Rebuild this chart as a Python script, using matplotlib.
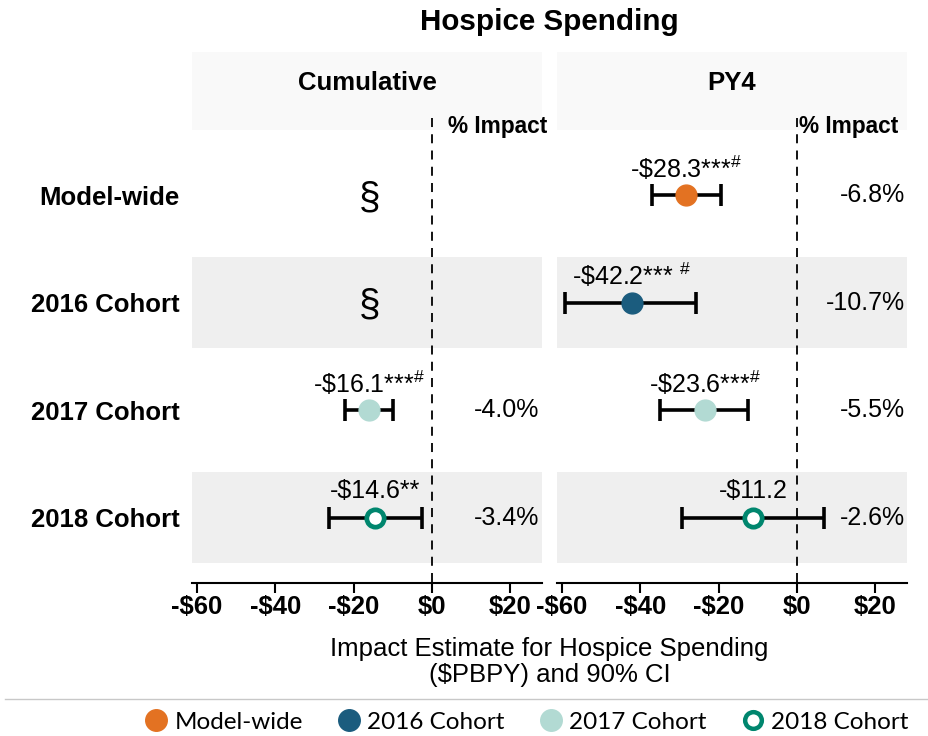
import numpy as np
import matplotlib
matplotlib.use("Agg")
import matplotlib.pyplot as plt
from matplotlib.lines import Line2D

plt.rcParams['font.family'] = ['Liberation Sans', 'DejaVu Sans']
plt.rcParams['mathtext.fontset'] = 'custom'
plt.rcParams['mathtext.rm'] = 'Liberation Sans'
plt.rcParams['mathtext.it'] = 'Liberation Sans'
plt.rcParams['mathtext.bf'] = 'Liberation Sans:bold'

# data
rows = ["Model-wide", "2016 Cohort", "2017 Cohort", "2018 Cohort"]
colors = ["#E37222", "#1B5C7E", "#B2DAD3", "#00866E"]

cum_est = [np.nan, np.nan, -16.1, -14.6]
cum_lo = [np.nan, np.nan, -22.3, -26.3]
cum_hi = [np.nan, np.nan, -9.9, -2.6]
cum_stars = ["", "", "***", "**"]
cum_hash = ["", "", "#", ""]
cum_pct = ["", "", "-4.0%", "-3.4%"]

py4_est = [-28.3, -42.2, -23.6, -11.2]
py4_lo = [-37.0, -59.2, -35.0, -29.5]
py4_hi = [-19.5, -25.9, -12.5, 6.9]
py4_stars = ["***", "*** ", "***", ""]
py4_hash = ["#", "#", "#", ""]
py4_pct = ["-6.8%", "-10.7%", "-5.5%", "-2.6%"]

xticks = [-60, -40, -20, 0, 20]
xticklabels = ["-$60", "-$40", "-$20", "$0", "$20"]

fig = plt.figure(figsize=(9.29, 7.36), dpi=100)

ax1 = fig.add_axes([0.2067, 0.2079, 0.3767, 0.7214])
ax2 = fig.add_axes([0.5996, 0.2079, 0.3767, 0.7214])


def make_label(v, stars, hsh):
    if hsh:
        return "-\\$%.1f%s$^{\\#}$" % (abs(v), stars)
    return "-$%.1f%s" % (abs(v), stars)


def draw_panel(ax, title, est, lo, hi, stars, hashes, pct, pct_x):
    ax.set_xlim(-61.3, 28.1)
    ax.set_ylim(3.609, -1.33)
    ax.set_facecolor("white")

    # header strip and shaded rows
    ax.axhspan(-1.33, -0.605, color="#f9f9f9", zorder=0, lw=0)
    for i in (1, 3):
        ax.axhspan(i - 0.423, i + 0.423, color="#efefef", zorder=0, lw=0)

    ax.plot([0, 0], [-0.716, 3.609], color="black", ls=(0, (5, 4)), lw=1.3, zorder=1)

    for i in range(len(rows)):
        if np.isnan(est[i]):
            ax.text(-16, i + 0.03, "§", fontsize=28, ha="center", va="center")
            continue
        ax.errorbar(est[i], i, xerr=[[est[i] - lo[i]], [hi[i] - est[i]]],
                    fmt="none", ecolor="black", elinewidth=2.6, capsize=8,
                    capthick=2.6, zorder=2)
        if i == 3:
            ax.plot(est[i], i, "o", ms=12.5, mfc="white", mec=colors[i], mew=3.4, zorder=3)
        else:
            ax.plot(est[i], i, "o", ms=15, color=colors[i], zorder=3)
        ax.annotate(make_label(est[i], stars[i], hashes[i]), (est[i], i),
                    xytext=(0, 19), textcoords="offset points",
                    ha="center", va="center", fontsize=18)
        ax.text(27.5, i, pct[i], ha="right", va="center", fontsize=18)

    ax.text(pct_x, -0.633, "% Impact", ha="left", va="center", fontsize=16.3,
            fontweight="bold")
    ax.text(0.5, 1 - (83 - 52) / (583 - 52), title, transform=ax.transAxes,
            ha="center", va="center", fontsize=18.5, fontweight="bold")

    for s in ["top", "left", "right"]:
        ax.spines[s].set_visible(False)
    ax.spines["bottom"].set_linewidth(1.5)
    ax.set_xticks(xticks)
    ax.set_xticklabels(xticklabels, fontsize=18.5, fontweight="bold")
    ax.tick_params(axis="x", length=7, width=1.5, pad=2)


draw_panel(ax1, "Cumulative", cum_est, cum_lo, cum_hi, cum_stars, cum_hash, cum_pct, 4.1)
draw_panel(ax2, "PY4", py4_est, py4_lo, py4_hi, py4_stars, py4_hash, py4_pct, 0.5)

ax1.set_yticks(range(len(rows)))
ax1.set_yticklabels(rows, fontsize=18.5, fontweight="bold")
ax1.tick_params(axis="y", length=0, pad=9)
ax2.set_yticks([])

fig.text(0.5915, 1 - 22 / 736, "Hospice Spending", ha="center", va="center",
         fontsize=21.3, fontweight="bold")
fig.text(0.5915, 1 - 662 / 736, "Impact Estimate for Hospice Spending\n($PBPY) and 90% CI",
         ha="center", va="center", fontsize=18.5, linespacing=1.1)

fig.add_artist(Line2D([0.005, 1.0], [1 - 699 / 736] * 2, color="#c8c8c8", lw=1))

handles = []
for i, name in enumerate(rows):
    if i == 3:
        h = Line2D([], [], ls="none", marker="o", ms=12, mfc="white", mec=colors[i], mew=3.2)
    else:
        h = Line2D([], [], ls="none", marker="o", ms=15.5, color=colors[i])
    handles.append(h)
fig.legend(handles, rows, loc="center", bbox_to_anchor=(0.565, 1 - 722 / 736),
           ncol=4, frameon=False, handletextpad=0.15, columnspacing=1.3,
           handlelength=1.2, prop={"family": "Lato", "size": 17.5})

fig.savefig("out.png", dpi=100)
